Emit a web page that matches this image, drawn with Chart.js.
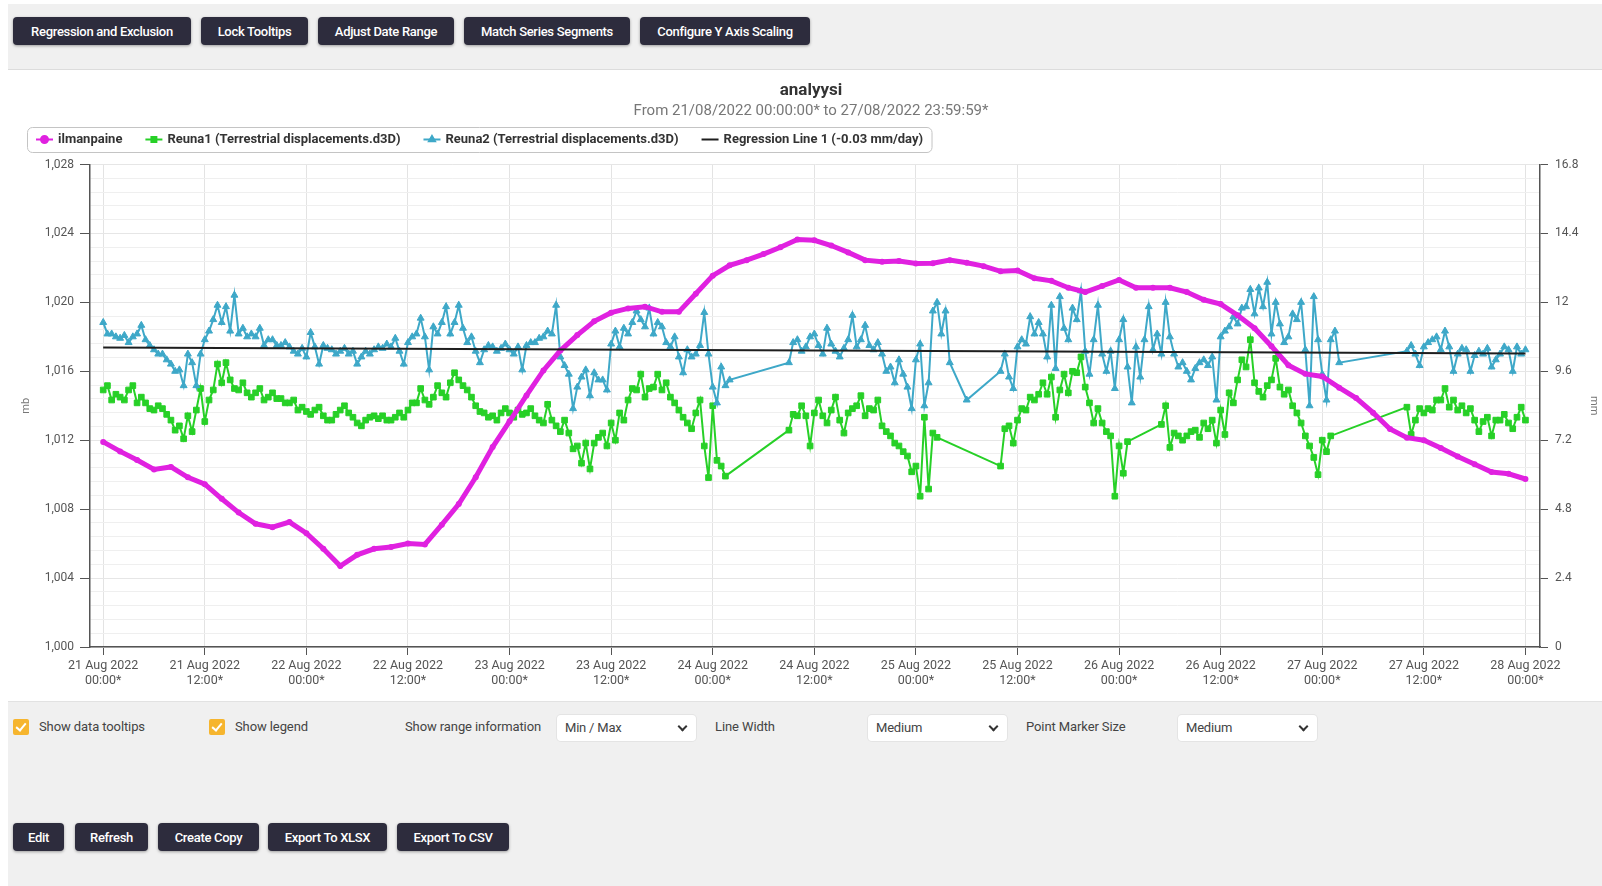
<!DOCTYPE html>
<html>
<head>
<meta charset="utf-8">
<title>analyysi</title>
<script src="https://cdn.jsdelivr.net/npm/chart.js@4.4.1/dist/chart.umd.min.js"></script>
<style>
  html, body { margin: 0; padding: 0; }
  body {
    width: 1602px; height: 886px; position: relative; overflow: hidden;
    background: #fff; font-family: Roboto, 'Open Sans', sans-serif;
  }
  .toolbar {
    position: absolute; left: 8px; top: 4px; width: 1594px; height: 65px;
    background: #f0f0f0; border-bottom: 1px solid #dcdcdc;
  }
  .chart-wrap {
    position: absolute; left: 8px; top: 70px; width: 1594px; height: 631px; background: #fff;
  }
  .controls {
    position: absolute; left: 8px; top: 701px; width: 1594px; height: 185px;
    background: #f0f0f0; border-top: 1px solid #e2e2e2;
  }
  .btn {
    position: absolute; height: 28px; background: #2d2c3d; color: #fff;
    font-weight: 500; font-size: 13px; border-radius: 4px;
    box-shadow: 0 1px 3px rgba(0, 0, 0, 0.35);
    display: flex; align-items: center; justify-content: center; letter-spacing: -0.3px;
  }
  .lbl { position: absolute; top: 719px; font-size: 13px; color: #444; letter-spacing: -0.1px; }
  .check {
    position: absolute; top: 719px; width: 16px; height: 16px; background: #f6b52e; border-radius: 2px;
  }
  .check::after {
    content: ''; position: absolute; left: 5px; top: 2px; width: 4px; height: 8px;
    border: solid #fff; border-width: 0 2px 2px 0; transform: rotate(40deg);
  }
  .sel {
    position: absolute; top: 715px; width: 139px; height: 26px; background: #fff;
    border-radius: 4px; box-shadow: 0 0 0 1px #e4e4e4; font-size: 13px; color: #444;
    line-height: 26px; padding-left: 8px; box-sizing: border-box; letter-spacing: -0.2px;
  }
  .sel::after {
    content: ''; position: absolute; right: 10px; top: 8px; width: 5px; height: 5px;
    border: solid #333; border-width: 0 2px 2px 0; transform: rotate(45deg);
  }
</style>
</head>
<body>
<div class="toolbar"></div>
<div class="btn" style="left:13px;top:17px;width:178px;">Regression and Exclusion</div>
<div class="btn" style="left:201px;top:17px;width:107px;">Lock Tooltips</div>
<div class="btn" style="left:318px;top:17px;width:136px;">Adjust Date Range</div>
<div class="btn" style="left:464px;top:17px;width:166px;">Match Series Segments</div>
<div class="btn" style="left:640px;top:17px;width:170px;">Configure Y Axis Scaling</div>

<div class="chart-wrap"><canvas id="myChart" width="1594" height="631"></canvas></div>

<div class="controls"></div>
<div class="check" style="left:13px;"></div>
<div class="lbl" style="left:39px;">Show data tooltips</div>
<div class="check" style="left:209px;"></div>
<div class="lbl" style="left:235px;">Show legend</div>
<div class="lbl" style="left:405px;">Show range information</div>
<div class="sel" style="left:557px;">Min / Max</div>
<div class="lbl" style="left:715px;">Line Width</div>
<div class="sel" style="left:868px;">Medium</div>
<div class="lbl" style="left:1026px;">Point Marker Size</div>
<div class="sel" style="left:1178px;">Medium</div>

<div class="btn" style="left:13px;top:823px;width:51px;">Edit</div>
<div class="btn" style="left:75px;top:823px;width:73px;">Refresh</div>
<div class="btn" style="left:158px;top:823px;width:101px;">Create Copy</div>
<div class="btn" style="left:268px;top:823px;width:119px;">Export To XLSX</div>
<div class="btn" style="left:397px;top:823px;width:112px;">Export To CSV</div>

<script>
'use strict';

// Title texts
const chartTitle = 'analyysi';
const chartSubtitle = 'From 21/08/2022 00:00:00* to 27/08/2022 23:59:59*';

// X axis: hours since 21/08/2022 00:00
const xTickHours = [0, 12, 24, 36, 48, 60, 72, 84, 96, 108, 120, 132, 144, 156, 168];
const xTickDates = ['21 Aug 2022', '21 Aug 2022', '22 Aug 2022', '22 Aug 2022', '23 Aug 2022',
  '23 Aug 2022', '24 Aug 2022', '24 Aug 2022', '25 Aug 2022', '25 Aug 2022', '26 Aug 2022',
  '26 Aug 2022', '27 Aug 2022', '27 Aug 2022', '28 Aug 2022'];
const xTickTimes = ['00:00*', '12:00*', '00:00*', '12:00*', '00:00*', '12:00*', '00:00*', '12:00*',
  '00:00*', '12:00*', '00:00*', '12:00*', '00:00*', '12:00*', '00:00*'];

// Left axis (mb) and right axis (mm)
const leftTickValues = [1000, 1004, 1008, 1012, 1016, 1020, 1024, 1028];
const leftTickLabels = ['1,000', '1,004', '1,008', '1,012', '1,016', '1,020', '1,024', '1,028'];
const rightTickValues = [0, 2.4, 4.8, 7.2, 9.6, 12, 14.4, 16.8];
const rightTickLabels = ['0', '2.4', '4.8', '7.2', '9.6', '12', '14.4', '16.8'];

// ilmanpaine (mb), one value every 2 hours from 21 Aug 00:00
const pressureStepHours = 2;
const pressureValues = [
  1011.9, 1011.35, 1010.85, 1010.3, 1010.45, 1009.85, 1009.45, 1008.6, 1007.8, 1007.15, 1006.95, 1007.25,
  1006.6, 1005.7, 1004.7, 1005.35, 1005.7, 1005.8, 1006.0, 1005.95, 1007.1, 1008.3, 1009.85, 1011.6,
  1013.1, 1014.6, 1016.05, 1017.2, 1018.1, 1018.9, 1019.4, 1019.65, 1019.75, 1019.45, 1019.45, 1020.5,
  1021.55, 1022.15, 1022.45, 1022.8, 1023.2, 1023.65, 1023.6, 1023.3, 1022.9, 1022.45, 1022.35, 1022.4,
  1022.25, 1022.27, 1022.45, 1022.3, 1022.1, 1021.8, 1021.85, 1021.4, 1021.25, 1020.85, 1020.6, 1020.95,
  1021.3, 1020.85, 1020.85, 1020.85, 1020.6, 1020.15, 1019.9, 1019.25, 1018.5, 1017.45, 1016.35, 1015.85,
  1015.7, 1015.05, 1014.45, 1013.6, 1012.65, 1012.15, 1012.0, 1011.55, 1011.05, 1010.6, 1010.15, 1010.05,
  1009.75
];

// Reuna1 / Reuna2 (mm), one value every 30 minutes, null = no data
const reunaStepHours = 0.5;
const reuna1Values = [
  8.95, 9.1, 8.6, 8.8, 8.7, 8.6, 8.95, 9.1, 8.5, 8.7, 8.5, 8.3, 8.25, 8.4, 8.3, 8.1, 7.9, 7.55, 7.7, 7.25, 8.05, 7.5, 8.25, 9.0,
  7.85, 8.6, 8.95, 9.85, 9.2, 9.9, 9.3, 9.0, 8.95, 9.2, 8.85, 8.7, 8.85, 9.0, 8.6, 8.7, 8.85, 8.65, 8.65, 8.5, 8.5, 8.6, 8.25, 8.35,
  8.2, 8.1, 8.25, 8.35, 8.05, 7.9, 7.9, 8.1, 8.25, 8.4, 8.15, 8.0, 7.8, 7.7, 7.9, 8.0, 8.05, 7.95, 8.05, 7.9, 7.9, 8.0, 8.15, 8.0,
  8.25, 8.5, 8.5, 9.0, 8.6, 8.45, 8.7, 9.1, 8.85, 8.7, 9.2, 9.55, 9.3, 9.1, 8.95, 8.7, 8.4, 8.2, 8.15, 8.0, 8.05, 7.9, 8.15, 8.3,
  8.15, 8.0, 8.25, 8.1, 8.15, 8.3, 8.05, 7.9, 7.8, 8.45, 7.9, 7.7, 7.5, 7.9, 7.45, 6.9, 7.0, 6.4, 7.1, 6.2, 7.1, 7.3, 7.45, 7.0,
  7.8, 7.2, 8.15, 7.9, 8.6, 9.0, 8.95, 9.5, 8.7, 9.0, 9.05, 9.5, 8.95, 9.2, 8.7, 8.5, 8.25, 8.0, 7.8, 7.6, 8.15, 8.6, 7.0, 5.9,
  8.4, 6.5, 6.3, 5.95, null, null, null, null, null, null, null, null, null, null, null, null, null, null, 7.55, 8.1, 8.05, 8.4, 8.05, 7.0,
  8.15, 8.6, 8.05, 7.8, 8.25, 8.7, 7.9, 7.45, 8.15, 8.3, 8.4, 8.75, 8.05, 8.3, 8.25, 8.6, 7.7, 7.5, 7.35, 7.1, 7.0, 6.8, 6.65, 6.1,
  6.3, 5.25, 8.0, 5.5, 7.45, 7.3, null, null, null, null, null, null, null, null, null, null, null, null, null, null, 6.3, 7.6, 7.7, 7.1,
  7.9, 8.3, 8.25, 8.7, 8.6, 8.8, 9.2, 8.8, 9.4, 8.0, 8.95, 9.5, 8.85, 9.6, 9.55, 10.1, 9.05, 8.5, 7.8, 8.3, 7.8, 7.5, 7.35, 5.25,
  7.0, 6.05, 7.15, null, null, null, null, null, null, null, 7.75, 8.4, 6.95, 7.45, 7.35, 7.2, 7.35, 7.5, 7.55, 7.3, 7.8, 7.6, 7.9, 7.1,
  8.25, 7.4, 8.85, 8.5, 9.3, 10.0, 9.75, 10.7, 9.2, 8.9, 8.7, 9.1, 9.3, 10.05, 9.05, 8.8, 8.95, 8.4, 8.15, 7.8, 7.35, 7.0, 6.6, 6.0,
  7.2, 6.8, 7.35, null, null, null, null, null, null, null, null, null, null, null, null, null, null, null, null, null, 8.35, 7.4, 7.9, 8.3,
  8.15, 8.3, 8.25, 8.6, 8.6, 9.0, 8.35, 8.6, 8.25, 8.4, 8.15, 8.3, 7.9, 7.5, 7.85, 8.0, 7.35, 7.9, 7.9, 8.1, 7.8, 7.6, 8.0, 8.35,
  7.9
];
const reuna2Values = [
  11.3, 10.9, 10.9, 10.8, 10.75, 10.85, 10.6, 10.8, 10.9, 11.2, 10.7, 10.5, 10.35, 10.2, 10.2, 10.0, 9.85, 9.6, 9.65, 9.1, 10.2, 9.9, 9.1, 10.2,
  10.7, 11.0, 11.4, 11.9, 11.3, 11.85, 11.0, 12.25, 10.9, 11.1, 10.8, 10.9, 10.8, 11.1, 10.5, 10.7, 10.7, 10.5, 10.5, 10.6, 10.45, 10.3, 10.2, 10.4,
  10.1, 10.95, 10.45, 9.85, 10.5, 10.4, 10.35, 10.2, 10.3, 10.4, 10.2, 10.3, 9.85, 10.1, 10.3, 10.2, 10.35, 10.45, 10.4, 10.55, 10.45, 10.75, 10.3, 9.85,
  10.6, 10.8, 10.9, 11.45, 10.8, 9.65, 11.15, 10.9, 11.3, 11.85, 10.9, 11.3, 11.9, 11.1, 10.6, 10.8, 10.3, 9.9, 10.35, 10.5, 10.45, 10.3, 10.4, 10.55,
  10.35, 10.2, 10.45, 9.65, 10.5, 10.6, 10.6, 10.75, 10.8, 11.0, 10.9, 11.9, 10.1, 9.8, 9.5, 8.3, 9.05, 9.4, 9.65, 8.75, 9.55, 9.3, 9.3, 8.95,
  10.55, 11.0, 10.45, 11.1, 10.9, 11.3, 11.7, 11.4, 11.15, 11.8, 10.9, 11.3, 11.15, 10.6, 10.45, 10.8, 10.1, 9.55, 10.35, 10.1, 10.2, 10.5, 11.65, 10.2,
  9.05, 8.5, 9.75, 9.1, 9.3, null, null, null, null, null, null, null, null, null, null, null, null, null, 9.9, 10.6, 10.7, 10.3, 10.45, 10.8,
  10.9, 10.5, 10.2, 11.1, 10.55, 10.3, 10.1, 10.4, 10.7, 11.55, 10.45, 10.7, 11.2, 10.5, 10.35, 10.6, 10.2, 9.6, 9.75, 9.2, 10.0, 9.5, 9.05, 8.3,
  10.0, 10.55, 8.4, 9.2, 11.7, 12.0, 10.9, 11.7, 9.9, null, null, null, 8.6, null, null, null, null, null, null, null, 9.6, 10.2, 9.4, 9.0,
  10.45, 10.7, 10.55, 11.5, 10.9, 11.3, 10.9, 10.1, 11.9, 9.7, 12.2, 11.1, 10.7, 11.8, 11.4, 12.4, 10.3, 9.5, 10.7, 11.9, 10.2, 9.6, 10.3, 9.0,
  10.7, 11.4, 9.75, 8.5, 10.45, 9.4, 10.7, 11.85, 10.35, 10.9, 10.2, 12.0, 10.8, 10.2, 9.75, 9.9, 9.6, 9.3, 9.7, 9.9, 10.0, 9.8, 10.1, 8.6,
  10.8, 11.0, 11.15, 11.5, 11.25, 11.8, 11.85, 12.45, 11.6, 12.5, 11.85, 12.7, 10.9, 12.0, 11.25, 10.6, 10.8, 11.6, 11.4, 12.0, 10.35, 8.4, 12.2, 10.7,
  9.5, 8.6, 10.7, 11.0, 9.9, null, null, null, null, null, null, null, null, null, null, null, null, null, null, null, 10.3, 10.5, 10.2, 9.8,
  10.45, 10.6, 10.7, 10.8, 10.35, 11.0, 10.45, 9.6, 10.2, 10.4, 10.35, 9.6, 10.15, 10.3, 10.2, 10.4, 9.75, 10.0, 10.2, 10.45, 10.35, 9.6, 10.45, 10.2,
  10.35
];

// Regression Line 1 (-0.03 mm/day)
const regressionHours = [0, 168];
const regressionValues = [10.43, 10.22];

const seriesNames = ['ilmanpaine', 'Reuna1 (Terrestrial displacements.d3D)',
  'Reuna2 (Terrestrial displacements.d3D)', 'Regression Line 1 (-0.03 mm/day)'];

const FONT = 'Roboto, "Open Sans", sans-serif';

function toPoints(values, step) {
  return values.map((v, i) => ({ x: i * step, y: v }));
}

// Draws title, subtitle and the boxed legend above the plot
const headerPlugin = {
  id: 'header',
  afterDraw(chart) {
    const ctx = chart.ctx;
    ctx.save();
    ctx.textAlign = 'center';
    ctx.textBaseline = 'middle';
    ctx.fillStyle = '#333';
    ctx.font = `bold 17px ${FONT}`;
    ctx.fillText(chartTitle, 803, 21);
    ctx.fillStyle = '#777';
    ctx.font = `15px ${FONT}`;
    ctx.fillText(chartSubtitle, 803, 41);

    // legend
    const cy = 69.5;
    let x = 28;
    ctx.font = `bold 13px ${FONT}`;
    ctx.textAlign = 'left';
    const items = chart.data.datasets.slice().sort((a, b) => a.legendIndex - b.legendIndex);
    items.forEach(ds => {
      ctx.strokeStyle = ds.borderColor;
      ctx.fillStyle = ds.borderColor;
      ctx.lineWidth = 2;
      ctx.beginPath();
      ctx.moveTo(x, cy);
      ctx.lineTo(x + 17, cy);
      ctx.stroke();
      if (ds.pointStyle && ds.legendMarker) {
        Chart.helpers.drawPoint(ctx, { pointStyle: ds.pointStyle, radius: 3.5, borderWidth: 1 }, x + 8.5, cy);
        ctx.fill();
      }
      ctx.fillStyle = '#333';
      ctx.fillText(ds.label, x + 22, cy + 0.5);
      x += 22 + ctx.measureText(ds.label).width + 23;
    });
    ctx.strokeStyle = '#c4c4c4';
    ctx.lineWidth = 1;
    ctx.beginPath();
    ctx.roundRect(19.5, 57.5, x - 23 + 9 - 19.5, 25, 5);
    ctx.stroke();
    ctx.restore();
  }
};

const canvasEl = document.getElementById('myChart');
const myChart = new Chart(canvasEl.getContext('2d'), {
  type: 'line',
  data: {
    datasets: [
      {
        label: seriesNames[3],
        data: regressionHours.map((h, i) => ({ x: h, y: regressionValues[i] })),
        borderColor: '#1e1e1e',
        borderWidth: 2,
        pointRadius: 0,
        yAxisID: 'y1',
        order: 0,
        legendIndex: 3,
      },
      {
        label: seriesNames[0],
        data: toPoints(pressureValues, pressureStepHours),
        borderColor: '#e021e0',
        backgroundColor: '#e021e0',
        borderWidth: 5,
        pointStyle: 'circle',
        pointRadius: 3,
        pointBorderWidth: 0,
        yAxisID: 'y',
        order: 1,
        legendIndex: 0,
        legendMarker: true,
      },
      {
        label: seriesNames[2],
        data: toPoints(reuna2Values, reunaStepHours),
        borderColor: '#3ea8c8',
        backgroundColor: '#3ea8c8',
        borderWidth: 2,
        pointStyle: 'triangle',
        pointRadius: 4,
        pointBorderWidth: 1,
        spanGaps: true,
        yAxisID: 'y1',
        order: 2,
        legendIndex: 2,
        legendMarker: true,
      },
      {
        label: seriesNames[1],
        data: toPoints(reuna1Values, reunaStepHours),
        borderColor: '#27d027',
        backgroundColor: '#27d027',
        borderWidth: 2,
        pointStyle: 'rect',
        pointRadius: 4,
        pointBorderWidth: 1,
        spanGaps: true,
        yAxisID: 'y1',
        order: 3,
        legendIndex: 1,
        legendMarker: true,
      },
    ],
  },
  options: {
    responsive: false,
    animation: false,
    events: [],
    layout: { padding: { top: 94.5, left: 8, right: 0, bottom: 0 } },
    plugins: { legend: { display: false }, title: { display: false }, tooltip: { enabled: false } },
    elements: { line: { tension: 0 } },
    scales: {
      x: {
        type: 'linear',
        min: -1.56,
        max: 169.72,
        afterBuildTicks: s => { s.ticks = xTickHours.map(v => ({ value: v })); },
        afterFit: s => { s.height = 54; },
        ticks: {
          autoSkip: false,
          maxRotation: 0,
          color: '#555',
          padding: 3,
          font: { family: FONT, size: 12.5, lineHeight: 1.2 },
          callback: (v, i) => [xTickDates[i], xTickTimes[i]],
        },
        grid: { color: '#e3e3e3', tickLength: 8, tickColor: '#555' },
        border: { color: '#555', width: 1.5 },
      },
      y: {
        position: 'left',
        min: 1000,
        max: 1028,
        afterBuildTicks: s => {
          const t = [];
          for (let k = 0; k <= 35; k++) t.push({ value: Math.round((1000 + k * 0.8) * 10) / 10 });
          s.ticks = t;
        },
        afterFit: s => { s.width = 74; },
        ticks: {
          autoSkip: false,
          color: '#555',
          padding: 6,
          font: { family: FONT, size: 12 },
          callback: v => {
            const i = leftTickValues.indexOf(v);
            return i < 0 ? '' : leftTickLabels[i];
          },
        },
        grid: {
          color: c => (leftTickValues.includes(c.tick.value) ? '#e6e6e6' : '#efefef'),
          tickLength: 10,
          tickColor: c => (leftTickValues.includes(c.tick.value) ? '#555' : 'rgba(0,0,0,0)'),
        },
        border: { color: '#555', width: 1.5 },
        title: { display: true, text: 'mb', color: '#777', font: { family: FONT, size: 11 }, padding: { top: 4, bottom: 0 } },
      },
      y1: {
        position: 'right',
        min: 0,
        max: 16.8,
        afterBuildTicks: s => { s.ticks = rightTickValues.map(v => ({ value: v })); },
        afterFit: s => { s.width = 62; },
        ticks: {
          autoSkip: false,
          color: '#555',
          padding: 7,
          font: { family: FONT, size: 12 },
          callback: (v, i) => rightTickLabels[i],
        },
        grid: { drawOnChartArea: false, tickLength: 8, tickColor: '#555' },
        border: { color: '#555', width: 1.5 },
        title: { display: true, text: 'mm', color: '#777', font: { family: FONT, size: 11 }, padding: { top: 2, bottom: 0 } },
      },
    },
  },
  plugins: [headerPlugin],
});
</script>
</body>
</html>
